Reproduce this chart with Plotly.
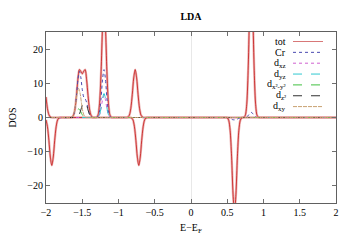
import plotly.graph_objects as go

# ---------------- data ----------------
tot_up_x = [-2.00, -1.98, -1.96, -1.94, -1.92, -1.90,
            -1.68, -1.66, -1.64, -1.62, -1.60, -1.58, -1.56, -1.54, -1.52, -1.50, -1.48, -1.46, -1.44, -1.42, -1.40, -1.38, -1.36, -1.34,
            -1.32, -1.30, -1.28, -1.26, -1.24, -1.22, -1.20, -1.18, -1.16, -1.14, -1.12, -1.10, -1.08, -1.06,
            -0.91, -0.89, -0.87, -0.85, -0.83, -0.81, -0.79, -0.77, -0.75, -0.73, -0.71, -0.69, -0.67, -0.65, -0.63,
            0.69, 0.71, 0.73, 0.75, 0.77, 0.79, 0.81, 0.83, 0.85, 0.87, 0.89, 0.91, 0.93, 0.95, 0.97, 2.00]
tot_up_y = [6.0, 2.6, 0.8, 0.15, 0.0, 0.0,
            0.0, 0.0, 0.1, 0.7, 2.5, 6.4, 11.2, 14.0, 13.5, 12.8, 13.5, 14.0, 11.1, 6.4, 2.5, 0.7, 0.1, 0.0,
            0.0, 0.1, 0.9, 4.5, 13.5, 26.4, 33.0, 26.4, 13.5, 4.5, 0.9, 0.1, 0.0, 0.0,
            0.0, 0.0, 0.15, 0.7, 2.7, 6.7, 11.6, 14.0, 11.6, 6.7, 2.7, 0.7, 0.15, 0.0, 0.0,
            0.0, 0.0, 0.07, 0.7, 4.2, 15.1, 32.6, 42.0, 32.6, 15.1, 4.2, 0.7, 0.07, 0.0, 0.0, 0.0]

tot_dn_x = [-2.00, -1.98, -1.96, -1.94, -1.92, -1.90, -1.88, -1.86, -1.84, -1.82, -1.80, -1.78,
            -0.86, -0.84, -0.82, -0.80, -0.78, -0.76, -0.74, -0.72, -0.70, -0.68, -0.66, -0.64, -0.62, -0.60, -0.58,
            0.46, 0.48, 0.50, 0.52, 0.54, 0.56, 0.58, 0.60, 0.62, 0.64, 0.66, 0.68, 0.70, 0.72, 0.74, 2.00]
tot_dn_y = [-0.7, -2.7, -6.7, -11.6, -14.0, -11.6, -6.7, -2.7, -0.7, -0.15, 0.0, 0.0,
            0.0, 0.0, -0.15, -0.7, -2.7, -6.7, -11.6, -14.0, -11.6, -6.7, -2.7, -0.7, -0.15, 0.0, 0.0,
            0.0, 0.0, -0.1, -0.8, -3.8, -11.5, -22.4, -28.0, -22.4, -11.5, -3.8, -0.8, -0.1, 0.0, 0.0, 0.0]

cr_up_x = [-2.00, -1.66,
           -1.64, -1.62, -1.60, -1.58, -1.56, -1.54, -1.52, -1.50, -1.48, -1.46, -1.44, -1.42, -1.40, -1.38, -1.36, -1.34,
           -1.32, -1.30, -1.28, -1.26, -1.24, -1.22, -1.20, -1.18, -1.16, -1.14, -1.12, -1.10, -1.08,
           0.73, 0.75, 0.77, 0.79, 0.81, 0.83, 0.85, 0.87, 0.89, 0.91, 0.93, 2.00]
cr_up_y = [0.0, 0.0,
           0.1, 0.6, 2.4, 6.2, 11.0, 13.5, 11.8, 8.2, 6.0, 5.5, 4.4, 2.5, 1.0, 0.3, 0.0, 0.0,
           0.0, 0.0, 0.4, 1.9, 5.7, 11.2, 14.0, 11.2, 5.7, 1.9, 0.4, 0.0, 0.0,
           0.0, 0.0, 0.2, 0.6, 1.2, 1.5, 1.2, 0.6, 0.2, 0.0, 0.0, 0.0]
cr_dn_x = [-2.00, 0.46, 0.50, 0.54, 0.57, 0.60, 0.63, 0.66, 0.70, 0.74, 2.00]
cr_dn_y = [0.0, 0.0, 0.0, -0.2, -0.6, -0.7, -0.6, -0.2, 0.0, 0.0, 0.0]

dxz_x = [-2.00, -1.32, -1.30, -1.28, -1.26, -1.24, -1.22, -1.20, -1.18, -1.16, -1.14, -1.12, -1.10, -1.08, 2.00]
dxz_y = [0.0, 0.0, 0.0, 0.2, 0.9, 2.7, 5.2, 6.5, 5.2, 2.7, 0.9, 0.2, 0.0, 0.0, 0.0]

dyz_x = [-2.00, -1.32, -1.30, -1.28, -1.26, -1.24, -1.22, -1.20, -1.18, -1.16, -1.14, -1.12, -1.10, -1.08, 2.00]
dyz_y = [0.0, 0.0, 0.0, 0.2, 0.9, 2.9, 5.6, 7.0, 5.6, 2.9, 0.9, 0.2, 0.0, 0.0, 0.0]

dx2y2_x = [-2.00, -1.67, -1.65, -1.63, -1.61, -1.59, -1.57, -1.55, -1.53, -1.51, -1.49, -1.47, -1.45, -1.43, 2.00]
dx2y2_y = [0.0, 0.0, 0.0, 0.1, 0.5, 1.2, 2.1, 2.5, 2.1, 1.2, 0.5, 0.1, 0.0, 0.0, 0.0]

dz2_x = [-2.00, -1.58, -1.56, -1.54, -1.52, -1.50, -1.48, -1.46, -1.44, -1.42, -1.40, -1.38, -1.36, -1.34, 2.00]
dz2_y = [0.0, 0.0, 0.0, 0.9, 2.2, 3.5, 4.3, 4.5, 3.7, 2.2, 0.9, 0.2, 0.0, 0.0, 0.0]

dxy_x = [-2.00, -1.67, -1.65, -1.63, -1.61, -1.59, -1.57, -1.55, -1.53, -1.51, -1.49, -1.47, -1.45, -1.43, 2.00]
dxy_y = [0.0, 0.0, 0.0, 0.4, 1.6, 4.1, 7.1, 8.5, 7.1, 4.1, 1.6, 0.4, 0.0, 0.0, 0.0]

x_ticks = [-2, -1.5, -1, -0.5, 0, 0.5, 1, 1.5, 2]
x_tick_text = ["\u22122", "\u22121.5", "\u22121", "\u22120.5", "0", "0.5", "1", "1.5", "2"]
y_ticks = [-20, -10, 0, 10, 20]
y_tick_text = ["\u221220", "\u221210", "0", "10", "20"]

legend_labels = ["tot", "Cr", "d<sub>xz</sub>", "d<sub>yz</sub>",
                 "d<sub>x\u00b2-y\u00b2</sub>", "d<sub>z\u00b2</sub>", "d<sub>xy</sub>"]

# ---------------- styles ----------------
FONT = "Times New Roman, Liberation Serif, serif"
styles = [
    dict(color="#d87878", dash="solid", width=1.0),    # tot
    dict(color="#4a4ab0", dash="dot", width=1.0),      # Cr
    dict(color="#d060d0", dash="dot", width=1.0),      # dxz
    dict(color="#30c8d0", dash="dash", width=1.0),     # dyz
    dict(color="#40c040", dash="dash", width=1.0),     # dx2-y2
    dict(color="#303030", dash="dash", width=1.0),     # dz2
    dict(color="#c8a070", dash="4px,1px", width=1.0),  # dxy
]

SM = 0.8
fig = go.Figure()

# total DOS: light band with a dark red core
for xs, ys in [(tot_up_x, tot_up_y), (tot_dn_x, tot_dn_y)]:
    fig.add_trace(go.Scatter(x=xs, y=ys, mode="lines", line_shape="spline",
                             line=dict(color="rgba(225,140,140,0.65)", width=2.4, smoothing=SM),
                             showlegend=False, hoverinfo="skip"))
    fig.add_trace(go.Scatter(x=xs, y=ys, mode="lines", line_shape="spline",
                             line=dict(color="#c00000", width=0.7, smoothing=SM),
                             showlegend=False))

series = [(cr_up_x, cr_up_y, styles[1]), (cr_dn_x, cr_dn_y, styles[1]),
          (dxz_x, dxz_y, styles[2]), (dyz_x, dyz_y, styles[3]),
          (dx2y2_x, dx2y2_y, styles[4]), (dz2_x, dz2_y, styles[5]),
          (dxy_x, dxy_y, styles[6])]
for xs, ys, st in series:
    fig.add_trace(go.Scatter(x=xs, y=ys, mode="lines", line_shape="spline",
                             line=dict(st, smoothing=SM), showlegend=False))

# custom legend (text left, sample right, gnuplot style)
W, H = 356, 249
L, R, T, B = 46, 20, 32, 46
pw, ph = W - L - R, H - T - B
row0, dy = 41.5, 10.85
txt_right, seg0, seg1 = 288, 293, 323
for i, (lab, st) in enumerate(zip(legend_labels, styles)):
    py = row0 + i * dy
    yp = (H - B - py) / ph
    fig.add_annotation(x=(txt_right - L) / pw, y=yp,
                       xref="paper", yref="paper", text=lab, showarrow=False,
                       xanchor="right", yanchor="middle",
                       font=dict(family=FONT, size=10, color="black"))
    fig.add_shape(type="line", xref="paper", yref="paper",
                  x0=(seg0 - L) / pw, x1=(seg1 - L) / pw, y0=yp, y1=yp,
                  line=dict(color=st["color"], dash=st["dash"], width=1))

axis_common = dict(showline=True, linecolor="#606060", linewidth=1, mirror="ticks",
                   ticks="inside", ticklen=4, tickcolor="#707070", showgrid=False,
                   tickfont=dict(family=FONT, size=10, color="black"))

fig.update_layout(
    width=W, height=H,
    margin=dict(l=L, r=R, t=T, b=B),
    paper_bgcolor="white", plot_bgcolor="white",
    font=dict(family=FONT, size=10, color="black"),
    title=dict(text="<b>LDA</b>", x=191 / W, xanchor="center", y=1 - 16 / H, yanchor="middle",
               font=dict(family=FONT, size=10, color="black")),
    xaxis=dict(range=[-2, 2], tickvals=x_ticks, ticktext=x_tick_text,
               zeroline=True, zerolinecolor="#e8e8e8", zerolinewidth=1,
               title=dict(text="E\u2212E<sub>F</sub>", standoff=6,
                          font=dict(family=FONT, size=10, color="black")),
               **axis_common),
    yaxis=dict(range=[-25, 25], tickvals=y_ticks, ticktext=y_tick_text,
               zeroline=False,
               title=dict(text="DOS", standoff=8,
                          font=dict(family=FONT, size=10, color="black")),
               **axis_common),
)

fig.write_html("out.html", config={"displayModeBar": False},
               post_script="document.body.style.margin='0';")
